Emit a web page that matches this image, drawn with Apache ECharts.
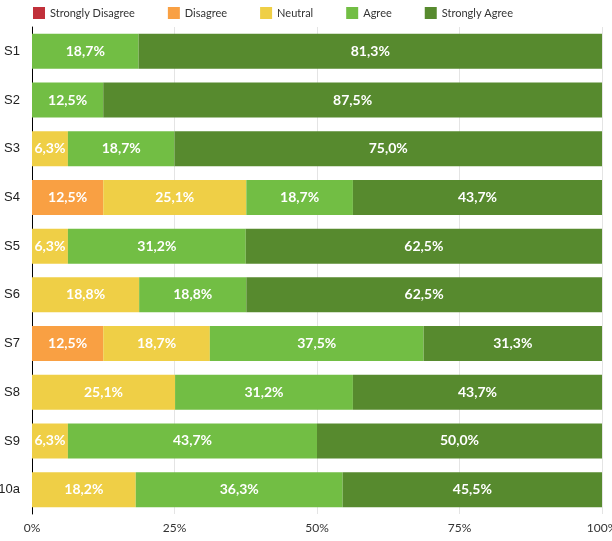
<!DOCTYPE html>
<html>
<head>
<meta charset="utf-8">
<script src="https://cdn.jsdelivr.net/npm/echarts@6/dist/echarts.min.js"></script>
<style>
  html, body { margin: 0; padding: 0; background: #fff; }
  #chart { width: 612px; height: 541px; }
</style>
</head>
<body>
<div id="chart"></div>
<script>
var categories = ['S1', 'S2', 'S3', 'S4', 'S5', 'S6', 'S7', 'S8', 'S9', '10a'];
var stronglyDisagree = [0, 0, 0, 0, 0, 0, 0, 0, 0, 0];
var disagree = [0, 0, 0, 12.5, 0, 0, 12.5, 0, 0, 0];
var neutral = [0, 0, 6.3, 25.1, 6.3, 18.8, 18.7, 25.1, 6.3, 18.2];
var agree = [18.7, 12.5, 18.7, 18.7, 31.2, 18.8, 37.5, 31.2, 43.7, 36.3];
var stronglyAgree = [81.3, 87.5, 75.0, 43.7, 62.5, 62.5, 31.3, 43.7, 50.0, 45.5];
var xTicks = [0, 25, 50, 75, 100];

var fontFamily = 'Lato, "Open Sans", sans-serif';

function makeSeries(name, data, color) {
    return {
        name: name,
        type: 'bar',
        stack: 'total',
        data: data,
        barWidth: 35,
        itemStyle: { color: color },
        label: {
            show: true,
            position: 'inside',
            color: '#fff',
            fontSize: 14,
            fontWeight: 'bold',
            fontFamily: fontFamily,
            formatter: function (p) {
                if (!p.value) return '';
                return p.value.toFixed(1).replace('.', ',') + '%';
            }
        }
    };
}

var myChart = echarts.init(document.getElementById('chart'));
var option = {
    animation: false,
    legend: {
        left: 28,
        top: 2,
        itemWidth: 12,
        itemHeight: 12,
        itemGap: 33,
        icon: 'rect',
        textStyle: { fontSize: 11, color: '#333', fontFamily: fontFamily }
    },
    grid: { left: 32, right: 10, top: 27, bottom: 27, outerBoundsMode: 'none' },
    xAxis: {
        type: 'value',
        min: 0,
        max: 100,
        interval: 25,
        axisLabel: {
            fontSize: 12,
            color: '#333',
            fontFamily: fontFamily,
            formatter: function (v) { return xTicks.indexOf(v) >= 0 ? v + '%' : ''; }
        },
        splitLine: { show: true, lineStyle: { color: '#e4e4e4' } },
        axisLine: { show: false },
        axisTick: { show: false }
    },
    yAxis: {
        type: 'category',
        data: categories,
        inverse: true,
        axisLine: { show: true, lineStyle: { color: '#000', width: 1 } },
        axisTick: { show: false },
        axisLabel: { fontSize: 13, color: '#222', margin: 12, fontFamily: 'Liberation Sans, Arial, sans-serif' }
    },
    series: [
        makeSeries('Strongly Disagree', stronglyDisagree, '#c1303a'),
        makeSeries('Disagree', disagree, '#f9a043'),
        makeSeries('Neutral', neutral, '#efcf46'),
        makeSeries('Agree', agree, '#72be44'),
        makeSeries('Strongly Agree', stronglyAgree, '#578a2e')
    ]
};
myChart.setOption(option);
window.addEventListener('resize', function () {
    myChart.resize();
});
</script>
</body>
</html>
